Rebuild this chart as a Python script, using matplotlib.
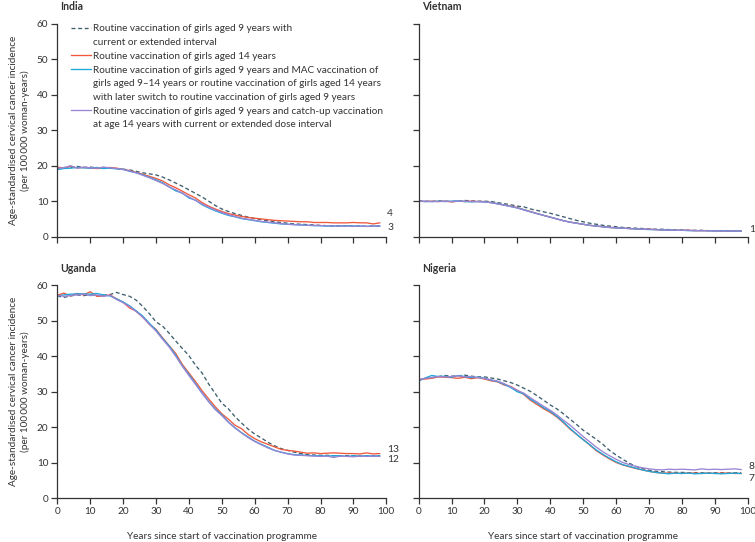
import numpy as np
import matplotlib.pyplot as plt
from matplotlib.lines import Line2D

plt.rcParams['font.family'] = ['Lato', 'DejaVu Sans']

# years since start of vaccination programme
years = np.arange(0, 99, 2)

# India
india_r9 = [19.2, 19.5, 19.4, 19.8, 19.5, 19.6, 19.4, 19.5, 19.3, 19.2,
            19.0, 18.8, 18.4, 18.0, 17.7, 17.4, 16.8, 16.0, 15.1, 14.2,
            13.2, 12.2, 11.2, 10.0, 8.8, 7.8, 7.1, 6.5, 6.0, 5.5,
            5.1, 4.8, 4.5, 4.2, 4.0, 3.8, 3.6, 3.5, 3.4, 3.3,
            3.2, 3.1, 3.1, 3.1, 3.0, 3.0, 3.0, 2.9, 3.0, 3.0]
india_r14 = [19.6, 19.3, 19.8, 19.4, 19.5, 19.3, 19.2, 19.3, 19.5, 19.3,
             19.0, 18.6, 18.1, 17.6, 17.0, 16.4, 15.7, 14.6, 13.8, 12.8,
             11.8, 10.9, 9.6, 8.6, 7.8, 7.1, 6.5, 6.1, 5.7, 5.4,
             5.2, 5.0, 4.8, 4.6, 4.5, 4.4, 4.3, 4.2, 4.2, 4.0,
             4.0, 4.0, 3.9, 3.9, 3.9, 4.0, 3.9, 3.9, 3.6, 3.9]
india_mac = [18.9, 19.2, 19.3, 19.5, 19.4, 19.3, 19.5, 19.2, 19.3, 19.1,
             19.0, 18.4, 18.0, 17.4, 16.7, 16.0, 15.2, 14.0, 12.9, 12.3,
             10.9, 10.3, 9.0, 8.1, 7.3, 6.6, 6.0, 5.6, 5.1, 4.8,
             4.5, 4.2, 4.0, 3.8, 3.6, 3.5, 3.4, 3.3, 3.2, 3.1,
             3.1, 3.0, 3.0, 3.0, 3.1, 3.0, 3.0, 2.9, 3.0, 3.0]
india_catch = [19.3, 19.4, 20.0, 19.3, 19.6, 19.4, 19.3, 19.6, 19.4, 19.2,
               18.9, 18.5, 18.0, 17.3, 16.6, 15.8, 15.0, 14.0, 13.2, 12.2,
               11.2, 10.2, 9.2, 8.3, 7.5, 6.8, 6.2, 5.7, 5.2, 4.9,
               4.6, 4.3, 4.1, 3.9, 3.7, 3.5, 3.4, 3.3, 3.2, 3.2,
               3.1, 3.1, 3.0, 3.0, 3.0, 2.9, 3.0, 2.9, 3.0, 3.0]

# Vietnam
vietnam_r9 = [10.1, 10.0, 9.9, 10.1, 10.0, 9.9, 10.0, 10.2, 10.1, 10.0,
              10.0, 9.9, 9.6, 9.3, 9.0, 8.6, 8.4, 7.8, 7.4, 7.0,
              6.6, 6.1, 5.6, 5.1, 4.6, 4.2, 3.8, 3.5, 3.2, 3.0,
              2.8, 2.6, 2.5, 2.4, 2.3, 2.2, 2.1, 2.1, 2.0, 1.9,
              1.9, 1.8, 1.8, 1.8, 1.7, 1.7, 1.7, 1.7, 1.6, 1.6]
vietnam_r14 = [10.0, 9.9, 10.0, 9.9, 10.0, 9.8, 10.0, 9.9, 10.0, 9.9,
               9.9, 9.6, 9.3, 8.9, 8.6, 8.2, 7.6, 7.1, 6.5, 6.0,
               5.5, 5.0, 4.5, 4.1, 3.8, 3.5, 3.2, 3.0, 2.8, 2.6,
               2.5, 2.4, 2.3, 2.2, 2.1, 2.1, 2.0, 1.9, 1.9, 1.8,
               1.8, 1.8, 1.7, 1.7, 1.7, 1.7, 1.6, 1.6, 1.6, 1.6]
vietnam_mac = [10.0, 9.9, 9.9, 10.0, 9.9, 10.0, 10.1, 9.9, 9.8, 9.9,
               9.8, 9.6, 9.3, 8.9, 8.5, 8.1, 7.6, 7.0, 6.5, 6.0,
               5.5, 5.0, 4.5, 4.1, 3.8, 3.5, 3.2, 3.0, 2.8, 2.6,
               2.5, 2.4, 2.3, 2.2, 2.1, 2.0, 2.0, 1.9, 1.9, 1.8,
               1.8, 1.7, 1.7, 1.7, 1.7, 1.6, 1.7, 1.6, 1.6, 1.6]
vietnam_catch = [9.9, 10.0, 9.9, 9.9, 10.0, 9.9, 10.0, 10.0, 9.9, 9.9,
                 9.8, 9.6, 9.2, 8.9, 8.5, 8.1, 7.5, 7.0, 6.5, 6.0,
                 5.5, 5.0, 4.5, 4.1, 3.8, 3.5, 3.2, 3.0, 2.8, 2.6,
                 2.5, 2.4, 2.3, 2.2, 2.1, 2.1, 2.0, 1.9, 1.9, 1.8,
                 1.8, 1.8, 1.7, 1.7, 1.7, 1.6, 1.6, 1.6, 1.6, 1.6]

# Uganda
uganda_r9 = [57.0, 56.6, 57.0, 57.3, 57.1, 57.3, 57.0, 57.2, 57.4, 58.0,
             57.4, 56.9, 55.8, 54.0, 52.0, 49.7, 48.5, 46.5, 44.3, 42.2,
             40.2, 37.5, 35.3, 32.2, 29.5, 26.8, 25.2, 23.0, 21.2, 19.5,
             18.1, 17.0, 15.8, 14.8, 14.0, 13.5, 13.0, 12.6, 12.3, 12.2,
             12.1, 12.1, 12.0, 12.0, 12.0, 12.0, 11.9, 12.0, 11.9, 12.0]
uganda_r14 = [57.2, 57.8, 57.0, 57.7, 57.3, 58.2, 56.9, 57.0, 57.3, 56.2,
              55.2, 53.6, 52.7, 51.0, 49.0, 47.6, 45.2, 43.0, 40.8, 37.7,
              35.3, 32.9, 30.3, 28.0, 25.8, 23.8, 22.3, 20.6, 19.6, 18.0,
              16.8, 15.9, 15.2, 14.5, 13.8, 13.5, 13.3, 13.0, 12.7, 12.8,
              12.6, 12.7, 12.8, 12.7, 12.6, 12.6, 12.5, 12.8, 12.5, 12.6]
uganda_mac = [57.0, 57.3, 57.5, 57.6, 57.6, 57.5, 57.7, 57.3, 57.0, 56.2,
              55.3, 54.2, 52.8, 51.3, 49.3, 47.4, 45.0, 42.9, 40.3, 37.3,
              34.9, 32.3, 29.7, 27.3, 25.2, 23.5, 21.5, 19.9, 18.5, 17.3,
              16.1, 15.2, 14.4, 13.5, 13.0, 12.6, 12.3, 12.2, 12.1, 12.0,
              12.0, 11.9, 12.0, 12.0, 11.8, 12.0, 11.9, 12.0, 11.9, 12.0]
uganda_catch = [57.2, 56.9, 57.1, 57.3, 57.5, 57.1, 57.3, 56.9, 57.2, 56.0,
                55.1, 54.0, 52.6, 51.0, 49.0, 47.1, 44.8, 42.6, 40.0, 37.2,
                34.6, 32.1, 29.6, 27.2, 25.0, 23.3, 21.4, 19.8, 18.4, 17.1,
                16.0, 15.1, 14.2, 13.5, 13.0, 12.5, 12.2, 12.1, 12.0, 11.9,
                11.8, 11.9, 11.5, 11.9, 11.8, 11.7, 11.9, 11.8, 11.9, 11.8]

# Nigeria
nigeria_r9 = [33.2, 33.8, 34.0, 34.3, 34.6, 34.4, 34.5, 34.7, 34.4, 34.2,
              34.2, 33.9, 33.6, 33.1, 32.6, 31.9, 31.0, 30.1, 28.9, 27.6,
              26.3, 25.2, 23.8, 22.3, 20.8, 19.2, 17.9, 16.6, 15.2, 13.5,
              12.2, 11.0, 9.9, 9.0, 8.4, 7.9, 7.6, 7.5, 7.4, 7.3,
              7.3, 7.2, 7.2, 7.2, 7.1, 7.2, 7.2, 7.1, 7.2, 7.2]
nigeria_r14 = [33.5, 33.6, 33.8, 34.2, 34.1, 34.0, 33.8, 34.1, 33.7, 34.0,
               33.6, 33.1, 32.8, 31.9, 31.5, 30.4, 29.2, 27.6, 26.4, 25.2,
               24.2, 22.9, 21.3, 19.5, 18.0, 16.6, 15.0, 13.4, 12.2, 11.1,
               10.1, 9.4, 8.9, 8.4, 8.0, 7.6, 7.3, 7.1, 7.1, 7.1,
               7.0, 7.1, 7.1, 7.0, 7.1, 7.0, 7.1, 7.1, 7.0, 7.0]
nigeria_mac = [33.1, 33.9, 34.6, 34.3, 34.4, 34.1, 34.6, 34.3, 34.0, 34.1,
               33.8, 33.3, 32.9, 32.1, 31.2, 30.0, 29.4, 27.9, 26.8, 25.5,
               24.5, 23.1, 21.5, 19.7, 18.1, 16.5, 15.1, 13.6, 12.4, 11.3,
               10.3, 9.5, 9.0, 8.5, 8.0, 7.6, 7.3, 7.1, 6.9, 7.1,
               7.0, 7.1, 6.9, 7.0, 7.1, 7.0, 6.9, 7.0, 7.1, 7.0]
nigeria_catch = [33.4, 33.8, 34.0, 34.3, 34.2, 34.3, 34.5, 34.2, 34.3, 34.0,
                 33.8, 33.4, 33.0, 32.3, 31.4, 30.4, 29.6, 28.3, 27.1, 25.9,
                 24.8, 23.5, 22.0, 20.6, 19.0, 17.4, 15.9, 14.4, 13.1, 12.0,
                 11.0, 10.1, 9.5, 9.0, 8.6, 8.3, 8.1, 8.0, 8.2, 8.1,
                 8.2, 8.1, 8.0, 8.3, 8.1, 8.2, 8.1, 8.2, 8.3, 8.1]

legend_labels = [
    ['Routine vaccination of girls aged 9 years with',
     'current or extended interval'],
    ['Routine vaccination of girls aged 14 years'],
    ['Routine vaccination of girls aged 9 years and MAC vaccination of',
     'girls aged 9\u201314 years or routine vaccination of girls aged 14 years',
     'with later switch to routine vaccination of girls aged 9 years'],
    ['Routine vaccination of girls aged 9 years and catch-up vaccination',
     'at age 14 years with current or extended dose interval'],
]

colors = ['#3e5f6e', '#f0583c', '#1ca8da', '#9a84d4']
styles = [(0, (3, 2)), '-', '-', '-']
text_col = '#333333'
fs = 7.2

fig = plt.figure(figsize=(7.55, 5.42), dpi=100)
w, h = 0.4358, 0.393
ax_india = fig.add_axes([0.0759, 0.5633, w, h])
ax_vietnam = fig.add_axes([0.5545, 0.5633, w, h])
ax_uganda = fig.add_axes([0.0759, 0.0806, w, h])
ax_nigeria = fig.add_axes([0.5545, 0.0806, w, h])

ylab = 'Age-standardised cervical cancer incidence\n(per 100\u2009000 woman-years)'


def draw_panel(ax, title, series, end_labels, left, bottom):
    for vals, c, ls in zip(series, colors, styles):
        ax.plot(years, vals, color=c, ls=ls, lw=0.95)
    ax.set_xlim(0, 100)
    ax.set_ylim(0, 60)
    ax.set_xticks(range(0, 101, 10))
    ax.set_yticks(range(0, 61, 10))
    for s in ['top', 'right']:
        ax.spines[s].set_visible(False)
    for s in ['left', 'bottom']:
        ax.spines[s].set_color(text_col)
        ax.spines[s].set_linewidth(0.9)
    ax.tick_params(length=4.5, width=0.9, color=text_col, labelcolor=text_col,
                   labelsize=fs, pad=2)
    if not left:
        ax.tick_params(labelleft=False)
    else:
        ax.set_ylabel(ylab, fontsize=fs, color=text_col, labelpad=5,
                      linespacing=1.25)
    if not bottom:
        ax.tick_params(labelbottom=False)
    else:
        ax.set_xlabel('Years since start of vaccination programme',
                      fontsize=fs, color=text_col, labelpad=11)
    ax.text(0.01, 1.08, title, transform=ax.transAxes, fontsize=7.6,
            fontweight='bold', color=text_col, va='center', ha='left')
    for txt, yv in end_labels:
        ax.text(100.3, yv, txt, fontsize=fs + 0.2, color=text_col,
                va='center', ha='left')


draw_panel(ax_india, 'India', [india_r9, india_r14, india_mac, india_catch],
           [('4', 6.4), ('3', 2.6)], True, False)
draw_panel(ax_vietnam, 'Vietnam',
           [vietnam_r9, vietnam_r14, vietnam_mac, vietnam_catch],
           [('1', 2.1)], False, False)
draw_panel(ax_uganda, 'Uganda', [uganda_r9, uganda_r14, uganda_mac, uganda_catch],
           [('13', 13.8), ('12', 10.8)], True, True)
draw_panel(ax_nigeria, 'Nigeria',
           [nigeria_r9, nigeria_r14, nigeria_mac, nigeria_catch],
           [('8', 8.9), ('7', 5.6)], False, True)

# legend: one row per text line, handle only on the first line of each entry
handles, labels = [], []
for lab, c, ls in zip(legend_labels, colors, styles):
    for i, line in enumerate(lab):
        if i == 0:
            handles.append(Line2D([], [], color=c, ls=ls, lw=0.95))
        else:
            handles.append(Line2D([], [], color='none'))
        labels.append(line)
leg = ax_india.legend(handles, labels, loc='upper left',
                      bbox_to_anchor=(0.03, 1.015), frameon=False,
                      fontsize=fs, handlelength=2.0, handletextpad=0.15,
                      labelspacing=0.47, borderaxespad=0)
for t in leg.get_texts():
    t.set_color(text_col)

fig.savefig('out.png', dpi=100)
